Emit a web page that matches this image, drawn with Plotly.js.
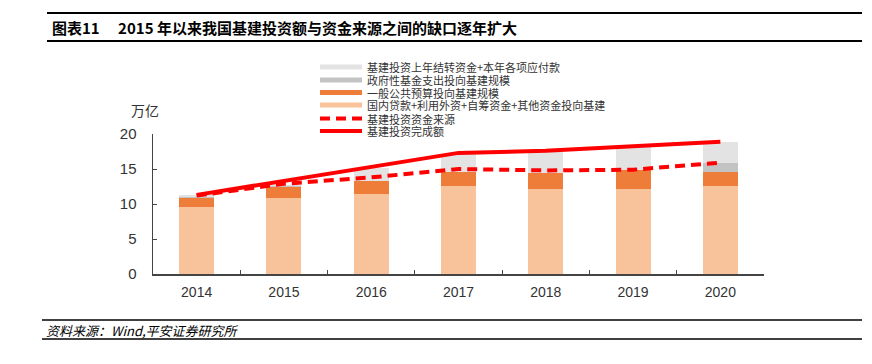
<!DOCTYPE html>
<html>
<head>
<meta charset="utf-8">
<script src="https://cdn.plot.ly/plotly-3.0.1.min.js"></script>
<style>html,body{margin:0;padding:0;background:#fff;}#chart{width:872px;height:364px;}</style>
</head>
<body>
<div id="chart"></div>
<script>
// ---- data ----
var years = ['2014', '2015', '2016', '2017', '2018', '2019', '2020'];
var domesticFunds = [9.6, 10.8, 11.5, 12.6, 12.2, 12.2, 12.6];   // 国内贷款+利用外资+自筹资金+其他资金投向基建
var budgetFunds = [1.3, 1.7, 1.8, 2.0, 2.3, 2.7, 2.0];          // 一般公共预算投向基建规模
var govFunds = [0.15, 0.1, 0, 0, 0, 0, 1.2];                      // 政府性基金支出投向基建规模
var carryOver = [0.25, 0.1, 1.9, 2.6, 3.0, 3.2, 3.1];            // 基建投资上年结转资金+本年各项应付款
var fundingSource = [11.2, 12.9, 13.8, 15.0, 14.8, 14.9, 15.9];  // 基建投资资金来源
var completed = [11.3, 13.3, 15.2, 17.3, 17.6, 18.3, 18.9];      // 基建投资完成额
var yTicks = [0, 5, 10, 15, 20];

var names = {
  carry: '基建投资上年结转资金+本年各项应付款',
  gov: '政府性基金支出投向基建规模',
  budget: '一般公共预算投向基建规模',
  domestic: '国内贷款+利用外资+自筹资金+其他资金投向基建',
  source: '基建投资资金来源',
  done: '基建投资完成额'
};

var C = {lo: '#F8C29A', do: '#EE7D3A', g: '#C3C3C3', lg: '#E3E3E3', red: '#FF0000'};

// ---- layout geometry (pixels) ----
var W = 872, H = 364;
var L = 153, R = 764, T = 134, B = 274;
function px(x) { return (x - L) / (R - L); }
function py(y) { return (B - y) / (B - T); }

var cjk = '"Noto Sans CJK SC", "Liberation Sans", sans-serif';
var lat = '"Liberation Sans", Arial, sans-serif';

var traces = [
  {type: 'bar', x: years, y: domesticFunds, name: names.domestic, marker: {color: C.lo}},
  {type: 'bar', x: years, y: budgetFunds, name: names.budget, marker: {color: C.do}},
  {type: 'bar', x: years, y: govFunds, name: names.gov, marker: {color: C.g}},
  {type: 'bar', x: years, y: carryOver, name: names.carry, marker: {color: C.lg}},
  {type: 'scatter', mode: 'lines', x: years, y: fundingSource, name: names.source,
   line: {color: C.red, width: 4, dash: '10px,6px'}},
  {type: 'scatter', mode: 'lines', x: years, y: completed, name: names.done,
   line: {color: C.red, width: 4}}
];

var shapes = [];
var annotations = [];

// header & footer rules
[[13, 2], [41, 2], [320, 1.5], [339, 1.5]].forEach(function (r, i) {
  var x0 = i < 2 ? 47 : 42;
  shapes.push({type: 'line', xref: 'paper', yref: 'paper', x0: px(x0), x1: px(862),
    y0: py(r[0]), y1: py(r[0]), line: {color: '#000', width: r[1]}});
});

annotations.push({xref: 'paper', yref: 'paper', x: px(50), y: py(27), xanchor: 'left', yanchor: 'middle',
  showarrow: false, text: '<b>图表11　 2015 年以来我国基建投资额与资金来源之间的缺口逐年扩大</b>',
  font: {family: cjk, size: 15, color: '#000'}});
annotations.push({xref: 'paper', yref: 'paper', x: px(44), y: py(330), xanchor: 'left', yanchor: 'middle',
  showarrow: false, text: '<i>资料来源：Wind,平安证券研究所</i>',
  font: {family: cjk, size: 13, color: '#000'}});
annotations.push({xref: 'paper', yref: 'paper', x: px(145), y: py(110), xanchor: 'center', yanchor: 'middle',
  showarrow: false, text: '万亿', font: {family: cjk, size: 14, color: '#333'}});

// manual legend
var legendItems = [
  {label: names.carry, kind: 'bar', color: C.lg},
  {label: names.gov, kind: 'bar', color: C.g},
  {label: names.budget, kind: 'bar', color: C.do},
  {label: names.domestic, kind: 'bar', color: C.lo},
  {label: names.source, kind: 'dash', color: C.red},
  {label: names.done, kind: 'line', color: C.red}
];
var rowY = [67, 80, 92.5, 105, 118.5, 131];
legendItems.forEach(function (it, i) {
  var y = rowY[i];
  if (it.kind === 'bar') {
    shapes.push({type: 'rect', xref: 'paper', yref: 'paper', x0: px(320), x1: px(362),
      y0: py(y - 2.5), y1: py(y + 2.5), fillcolor: it.color, line: {width: 0}});
  } else {
    shapes.push({type: 'line', xref: 'paper', yref: 'paper', x0: px(320), x1: px(362),
      y0: py(y), y1: py(y), line: {color: it.color, width: 4, dash: it.kind === 'dash' ? '10px,6px' : 'solid'}});
  }
  annotations.push({xref: 'paper', yref: 'paper', x: px(366), y: py(y), xanchor: 'left', yanchor: 'middle',
    showarrow: false, text: it.label, height: 12, borderpad: 0, font: {family: cjk, size: 11, color: '#333'}});
});

var layout = {
  width: W, height: H,
  margin: {l: L, r: W - R, t: T, b: H - B, pad: 0},
  paper_bgcolor: '#fff', plot_bgcolor: '#fff',
  barmode: 'stack', bargap: 0.6,
  showlegend: false,
  xaxis: {
    type: 'category', showgrid: false, zeroline: false,
    showline: true, linecolor: '#444', linewidth: 1.5,
    ticks: 'inside', ticklen: 4, tickcolor: '#444', tickson: 'boundaries',
    tickfont: {family: lat, size: 14, color: '#333'}, ticklabelstandoff: 5
  },
  yaxis: {
    range: [0, 20], tickvals: yTicks, showgrid: false, zeroline: false,
    showline: true, linecolor: '#444', linewidth: 1.5,
    ticks: 'inside', ticklen: 4, tickcolor: '#444',
    tickfont: {family: lat, size: 15, color: '#333'}, ticklabelstandoff: 12
  },
  shapes: shapes,
  annotations: annotations
};

Plotly.newPlot('chart', traces, layout, {displayModeBar: false, staticPlot: true});
</script>
</body>
</html>
